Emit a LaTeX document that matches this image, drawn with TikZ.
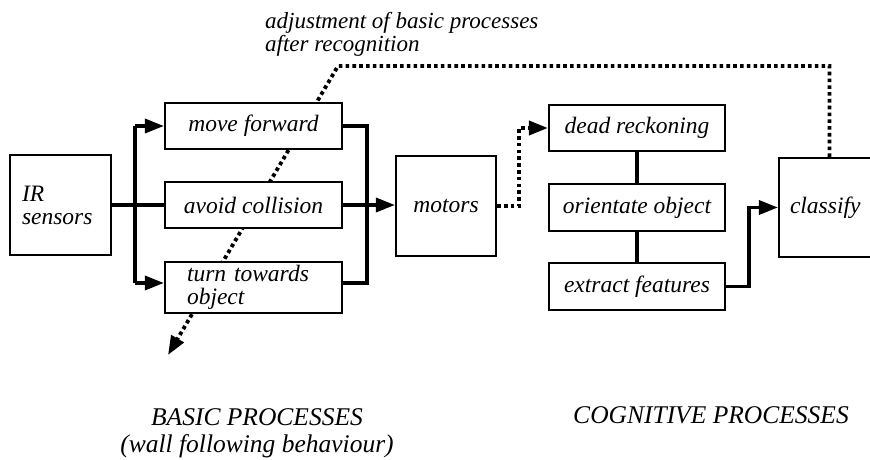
\documentclass[tikz,border=0pt]{standalone}
\usepackage{fontspec}
\setmainfont{Liberation Serif}
\usetikzlibrary{arrows.meta}
\pgfdeclarelayer{background}
\pgfsetlayers{background,main}
\tikzset{
  box/.style={draw, line width=2.2pt, fill=white, inner sep=0pt, font=\itshape\fontsize{23.5}{24}\selectfont},
  conn/.style={line width=3.4pt},
  tip/.style={-{Triangle[length=19pt,width=14pt]}},
  dotline/.style={line width=3.8pt, dash pattern=on 3.6pt off 3.2pt},
  lbl/.style={inner sep=0pt, font=\itshape\fontsize{25.5}{27}\selectfont}
}
\begin{document}
\begin{tikzpicture}[x=1pt,y=-1pt]
\path[use as bounding box, clip] (0,0) rectangle (870,460);
% boxes
\node[box, minimum width=101pt, minimum height=100pt, text width=77pt, align=left, inner xsep=12pt] (ir) at (60.5,205) {IR\\[-1pt]sensors};
\node[box, minimum width=177pt, minimum height=46pt] (mf) at (253.5,126) {move forward};
\node[box, minimum width=177pt, minimum height=46pt] (ac) at (253.5,205) {avoid collision};
\node[box, minimum width=177pt, minimum height=51pt, text width=133pt, align=left, inner xsep=22pt] (tt) at (253.5,287.5) {turn towards\\[-1pt]object};
\node[box, minimum width=100pt, minimum height=100pt] (mo) at (446,206) {motors};
\node[box, minimum width=176pt, minimum height=46pt] (dr) at (637,128) {dead reckoning};
\node[box, minimum width=176pt, minimum height=47pt] (oo) at (637,207.5) {orientate object};
\node[box, minimum width=176pt, minimum height=47pt] (ef) at (637,286.5) {extract features};
\node[box, minimum width=101pt, minimum height=99pt, text width=79pt, align=left, inner xsep=11pt] (cl) at (829.5,207.5) {classify};
% coordinates
\coordinate (bl1) at (135,126);
\coordinate (bl2) at (135,283);
\coordinate (br2) at (367,283);
\coordinate (fbend) at (168,355);
% basic process connectors
\draw[conn] (ir.east) -- (ac.west);
\draw[conn] (bl1) -- (bl2);
\draw[conn,tip] (bl1) -- (mf.west);
\draw[conn,tip] (bl2) -- (bl2 -| tt.west);
\draw[conn] (mf.east) -| (br2) -- (br2 -| tt.east);
\draw[conn,tip] (ac.east) -- (ac.east -| mo.west);
% cognitive connectors
\draw[dotline,tip] (mo.east) -- ++(22,0) |- (dr.west);
\draw[conn] (dr.south) -- (oo.north);
\draw[conn] (oo.south) -- (ef.north);
\draw[conn,tip] (ef.east) -- ++(23,0) |- (cl.west);
% feedback
\begin{pgfonlayer}{background}
\fill[white] (0,0) rectangle (870,460);
\draw[dotline,tip] (cl.north) -- (cl.north |- 0,66) -- (338,66) -- (fbend);
\end{pgfonlayer}
% labels
\node[lbl, anchor=north west, align=left, font=\itshape\fontsize{23}{23.5}\selectfont] (adj) at (265,12) {adjustment of basic processes\\after recognition};
\node[lbl, anchor=north, align=center] (bp) at (257,408) {BASIC PROCESSES\\(wall following behaviour)};
\node[lbl, anchor=north] (cp) at (711,406) {COGNITIVE PROCESSES};
\end{tikzpicture}
\end{document}
